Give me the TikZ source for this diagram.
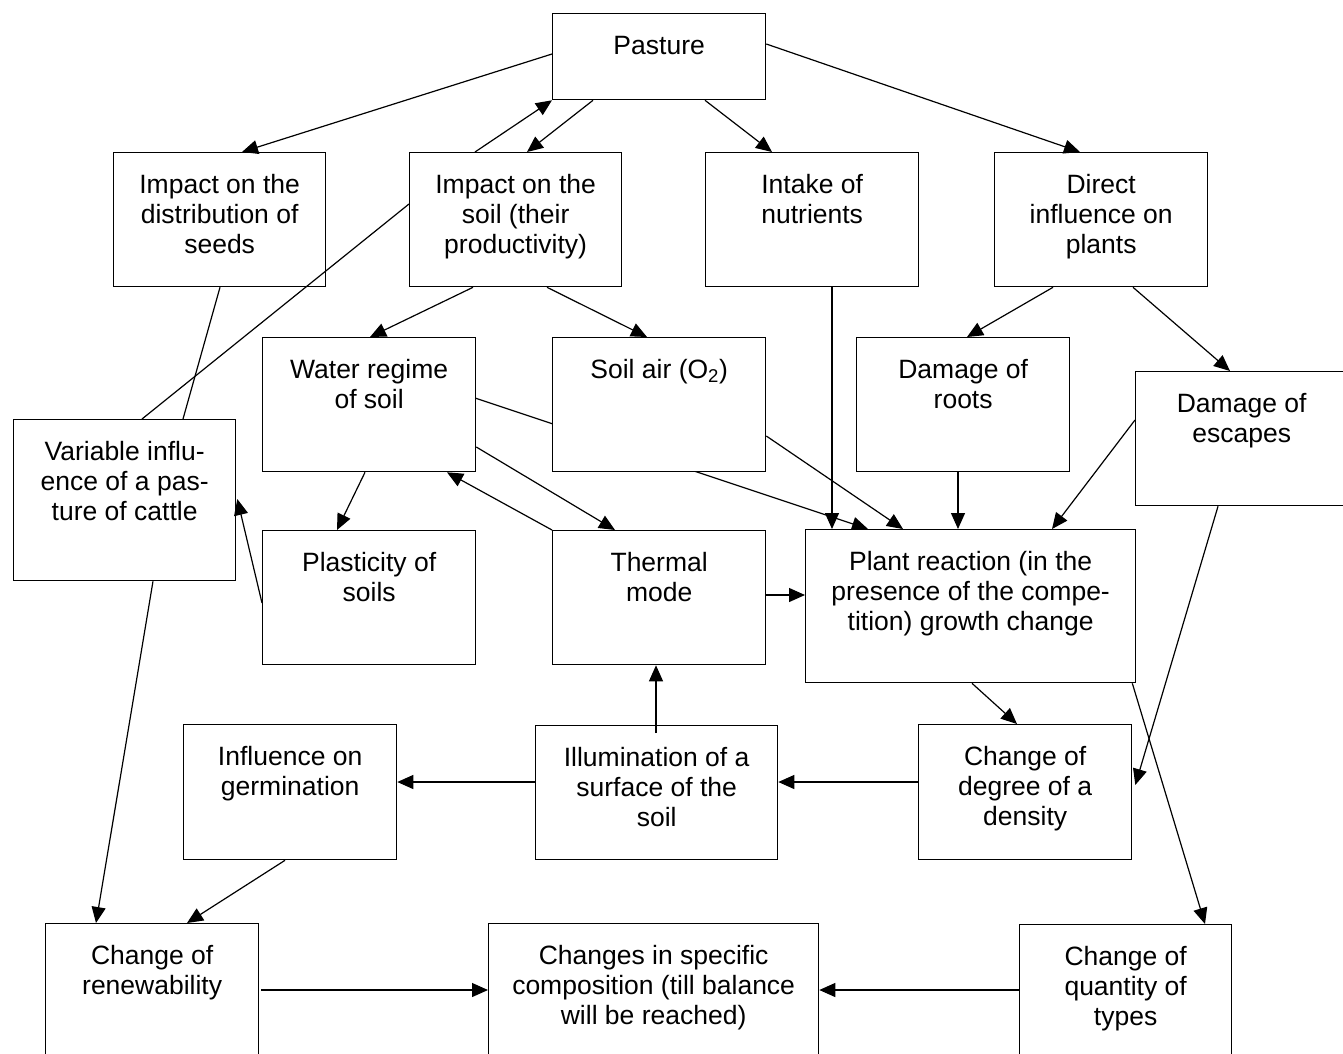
\documentclass[tikz,border=0pt]{standalone}
\usepackage{fontspec}
\setmainfont{Liberation Sans}
\usetikzlibrary{arrows.meta}
\newcommand\bx[6]{%
  \node[box, minimum width=#4pt, minimum height=#5pt] (#1) at (#2,#3) {};
  \node[txt] (#1-t) at ([yshift=-16pt]#1.north) {\rule{0pt}{25pt}#6};}
\begin{document}
\begin{tikzpicture}[x=1pt,y=-1pt,
  box/.style={draw, line width=1.3pt, fill=white, inner sep=0pt, anchor=north west},
  txt/.style={inner sep=0pt, align=center, anchor=north, font=\fontsize{26.5pt}{30pt}\selectfont},
  arr/.style={line width=1.2pt, -{Triangle[length=16pt,width=14pt]}},
  ln/.style={line width=1.2pt}]
\useasboundingbox (0,0) rectangle (1343,1053);
\clip (0,0) rectangle (1343,1053);
\fill[white] (0,0) rectangle (1343,1053);
% coordinates for the hidden line (drawn behind Soil air box)
\coordinate (wstart) at (475,398);
\coordinate (wend) at (868,529);
\draw[arr] (wstart) -- (wend);
% boxes
\bx{pasture}{552}{13}{213}{86}{Pasture}
\bx{seeds}{113}{152}{212}{134}{Impact on the\\distribution of\\seeds}
\bx{soil}{409}{152}{212}{134}{Impact on the\\soil (their\\productivity)}
\bx{intake}{705}{152}{213}{134}{Intake of\\nutrients}
\bx{direct}{994}{152}{213}{134}{Direct\\influence on\\plants}
\bx{water}{262}{337}{213}{134}{Water regime\\of soil}
\bx{air}{552}{337}{213}{134}{Soil air (O\textsubscript{2})}
\bx{roots}{856}{337}{213}{134}{Damage of\\roots}
\bx{escapes}{1135}{371}{212}{134}{Damage of\\escapes}
\bx{variable}{13}{419}{222}{161}{Variable influ-\\ence of a pas-\\ture of cattle}
\bx{plast}{262}{530}{213}{134}{Plasticity of\\soils}
\bx{thermal}{552}{530}{213}{134}{Thermal\\mode}
\bx{plant}{805}{529}{330}{153}{Plant reaction (in the\\presence of the compe-\\tition) growth change}
\bx{germ}{183}{724}{213}{135}{Influence on\\germination}
\bx{illum}{535}{725}{242}{134}{Illumination of a\\surface of the\\soil}
\bx{density}{918}{724}{213}{135}{Change of\\degree of a\\density}
\bx{renew}{45}{923}{213}{134}{Change of\\renewability}
\bx{compo}{488}{923}{330}{134}{Changes in specific\\composition (till balance\\will be reached)}
\bx{quantity}{1019}{924}{212}{134}{Change of\\quantity of\\types}
% connectors
\draw[arr] ([shift={(0,41)}]pasture.north west) -- ([shift={(129,0)}]seeds.north west);
\draw[arr] ([shift={(66,0)}]soil.north west) -- (pasture.south west);
\draw[arr] ([shift={(41,0)}]pasture.south west) -- ([shift={(118,0)}]soil.north west);
\draw[arr] ([shift={(153,0)}]pasture.south west) -- ([shift={(67,0)}]intake.north west);
\draw[arr] ([shift={(0,31)}]pasture.north east) -- ([shift={(86,0)}]direct.north west);
\draw[arr] ([shift={(64,0)}]soil.south west) -- ([shift={(108,0)}]water.north west);
\draw[arr] ([shift={(138,0)}]soil.south west) -- ([shift={(95,0)}]air.north west);
\draw[arr] ([shift={(59,0)}]direct.south west) -- ([shift={(111,0)}]roots.north west);
\draw[arr] ([shift={(139,0)}]direct.south west) -- ([shift={(95,0)}]escapes.north west);
\draw[arr] ([shift={(127,0)}]intake.south west) -- ([shift={(27,0)}]plant.north west);
\draw[arr] ([shift={(0,99)}]air.north east) -- ([shift={(98,0)}]plant.north west);
\draw[arr] ([shift={(102,0)}]roots.south west) -- ([shift={(153,0)}]plant.north west);
\draw[arr] ([shift={(0,49)}]escapes.north west) -- ([shift={(247,0)}]plant.north west);
\draw[arr] ([shift={(0,110)}]water.north east) -- ([shift={(63,0)}]thermal.north west);
\draw[arr] (thermal.north west) -- ([shift={(185,0)}]water.south west);
\draw[arr] ([shift={(103,0)}]water.south west) -- ([shift={(75,0)}]plast.north west);
\draw[arr] ([shift={(0,73)}]plast.north west) -- ([shift={(1,80)}]variable.north east);
\draw[ln] ([shift={(107,0)}]seeds.south west) -- ([shift={(170,0)}]variable.north west);
\draw[ln] ([shift={(0,52)}]soil.north west) -- ([shift={(129,0)}]variable.north west);
\draw[arr] ([shift={(140,0)}]variable.south west) -- ([shift={(51,0)}]renew.north west);
\draw[arr] ([shift={(0,65)}]thermal.north east) -- ([shift={(0,66)}]plant.north west);
\draw[arr] ([shift={(121,8)}]illum.north west) -- ([shift={(104,0)}]thermal.south west);
\draw[arr] ([shift={(0,57)}]illum.north west) -- ([shift={(0,58)}]germ.north east);
\draw[arr] ([shift={(0,58)}]density.north west) -- ([shift={(0,57)}]illum.north east);
\draw[arr] ([shift={(167,0)}]plant.south west) -- ([shift={(99,0)}]density.north west);
\draw[arr] ([shift={(83,0)}]escapes.south west) -- ([shift={(3,61)}]density.north east);
\draw[arr] ([shift={(-4,0)}]plant.south east) -- ([shift={(186,0)}]quantity.north west);
\draw[arr] ([shift={(102,0)}]germ.south west) -- ([shift={(142,0)}]renew.north west);
\draw[arr] ([shift={(216,67)}]renew.north west) -- ([shift={(0,67)}]compo.north west);
\draw[arr] ([shift={(0,66)}]quantity.north west) -- ([shift={(0,67)}]compo.north east);
\end{tikzpicture}
\end{document}
